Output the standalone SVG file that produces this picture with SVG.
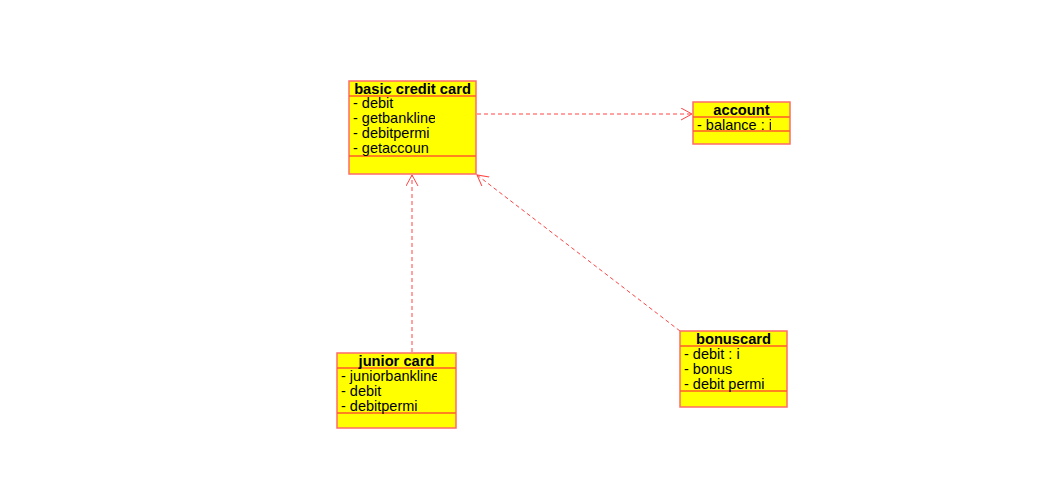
<svg xmlns="http://www.w3.org/2000/svg" width="1058" height="497" viewBox="0 0 1058 497">
<style>
.box{fill:#ffff00;stroke:#ff6a6a;stroke-width:1.5}
.sep{stroke:#ff5a2a;stroke-width:1.5}
.t{font-family:"Liberation Sans",Arial,sans-serif;font-size:14.5px;fill:#000}
.h{font-weight:bold;text-anchor:middle;font-size:14.7px}
.c{fill:none;stroke:#ff4444;stroke-width:1;stroke-dasharray:4,3}
</style>
<defs>
<marker id="arr" markerWidth="14" markerHeight="14" refX="11" refY="6" orient="auto" markerUnits="userSpaceOnUse">
<path d="M0,0 L11,6 L0,12" fill="none" stroke="#ff4444" stroke-width="1"/>
</marker>
<clipPath id="c1"><rect x="349" y="96" width="86" height="63"/></clipPath>
<clipPath id="c2"><rect x="693" y="117" width="78" height="17"/></clipPath>
<clipPath id="c3"><rect x="337" y="368" width="100" height="48"/></clipPath>
<clipPath id="c4"><rect x="680" y="346" width="87" height="48"/></clipPath>
</defs>
<g id="connectors">
<line class="c" x1="477" y1="114" x2="692" y2="114" marker-end="url(#arr)"/>
<line class="c" x1="412" y1="352" x2="412" y2="175" marker-end="url(#arr)"/>
<line class="c" x1="680" y1="331" x2="477" y2="175" marker-end="url(#arr)"/>
</g>
<g id="basic">
<rect class="box" x="349" y="81" width="127" height="93"/>
<line class="sep" x1="349" y1="96" x2="476" y2="96"/>
<line class="sep" x1="349" y1="156" x2="476" y2="156"/>
<text class="t h" x="412.5" y="93.5">basic credit card</text>
<g clip-path="url(#c1)">
<text class="t" x="353" y="108">- debit</text>
<text class="t" x="353" y="123">- getbankline</text>
<text class="t" x="353" y="138">- debitpermi</text>
<text class="t" x="353" y="153">- getaccoun</text>
</g>
</g>
<g id="account">
<rect class="box" x="693" y="102" width="97" height="42"/>
<line class="sep" x1="693" y1="117" x2="790" y2="117"/>
<line class="sep" x1="693" y1="131" x2="790" y2="131"/>
<text class="t h" x="741.5" y="114.5">account</text>
<g clip-path="url(#c2)">
<text class="t" x="697" y="130">- balance : i</text>
</g>
</g>
<g id="junior">
<rect class="box" x="337" y="353" width="119" height="75"/>
<line class="sep" x1="337" y1="368" x2="456" y2="368"/>
<line class="sep" x1="337" y1="413" x2="456" y2="413"/>
<text class="t h" x="396.5" y="365.5">junior card</text>
<g clip-path="url(#c3)">
<text class="t" x="341" y="381">- juniorbankline</text>
<text class="t" x="341" y="396">- debit</text>
<text class="t" x="341" y="411">- debitpermi</text>
</g>
</g>
<g id="bonuscard">
<rect class="box" x="680" y="331" width="107" height="76"/>
<line class="sep" x1="680" y1="346" x2="787" y2="346"/>
<line class="sep" x1="680" y1="391" x2="787" y2="391"/>
<text class="t h" x="733.5" y="343.5">bonuscard</text>
<g clip-path="url(#c4)">
<text class="t" x="684" y="359">- debit : i</text>
<text class="t" x="684" y="374">- bonus</text>
<text class="t" x="684" y="389">- debit permi</text>
</g>
</g>
</svg>
